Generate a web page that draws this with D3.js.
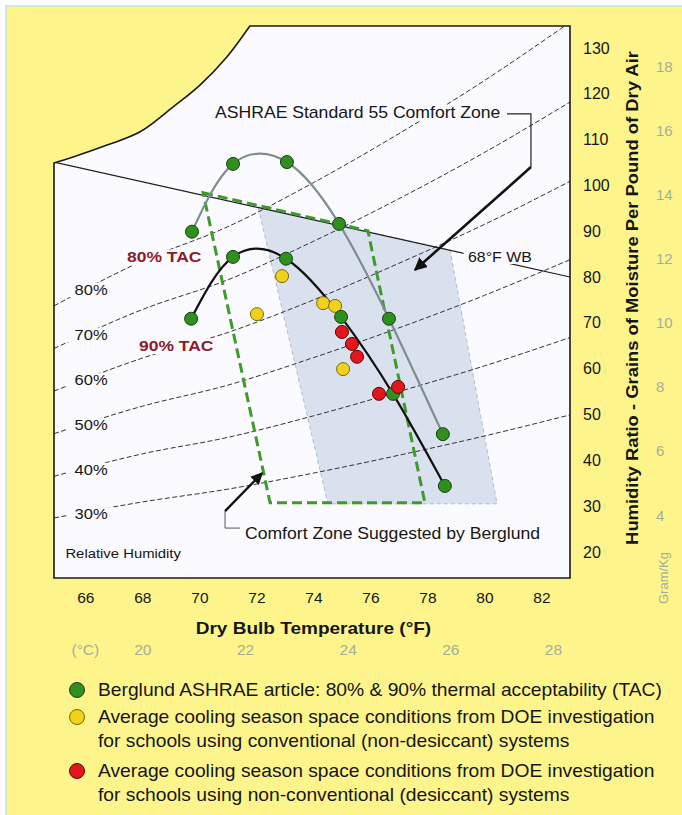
<!DOCTYPE html>
<html>
<head>
<meta charset="utf-8">
<script src="https://cdn.jsdelivr.net/npm/d3@7"></script>
<style>
  html, body { margin: 0; padding: 0; background: #fff; }
  svg { display: block; font-family: "Liberation Sans", Arial, Helvetica, sans-serif; }
</style>
</head>
<body>
<div id="chart"></div>
<script>
// --- Tick values ---
const tempTicksF = [66, 68, 70, 72, 74, 76, 78, 80, 82];
const tempTicksC = [20, 22, 24, 26, 28];
const grainTicks = [20, 30, 40, 50, 60, 70, 80, 90, 100, 110, 120, 130];
const gramTicks  = [4, 6, 8, 10, 12, 14, 16, 18];

// --- Relative humidity lines (grains/lb read at each dry bulb temp, °F) ---
const rhTemps  = [64.9, 68, 71, 74, 77, 80, 83];
const rhLevels = ["30%", "40%", "50%", "60%", "70%", "80%"];
const rh30 = [27.4, 30.9, 33.7, 37.2, 41.1, 45.3, 49.9];
const rh40 = [36.5, 41.4, 45.0, 49.7, 55.0, 60.6, 66.8];
const rh50 = [45.8, 51.8, 56.4, 62.4, 68.9, 76.0, 83.8];
const rh60 = [55.1, 62.3, 67.9, 75.0, 83.0, 91.5, 100.9];
const rh70 = [64.4, 72.9, 79.4, 87.8, 97.1, 107.2, 118.2];
const rh80 = [73.7, 83.5, 91.0, 100.6, 111.3, 122.9, 135.6];
const rhSeries = [rh30, rh40, rh50, rh60, rh70, rh80];

// --- Upper-left chart edge [°F, grains] ---
const satEdge = [[64.9, 104.9], [65.57, 106.2], [66.76, 108.8], [67.92, 111.7],
                 [69.07, 117.1], [70.02, 121.9], [70.97, 128.1], [71.77, 134.8]];

// --- 68°F wet bulb line ---
const wbLine = [[64.9, 105.1], [83.0, 80.0]];

// --- Comfort zones ---
const ashraeZone   = [[72.06, 95.3], [78.79, 85.9], [80.44, 30.5], [74.51, 30.5]];
const berglundZone = [[70.13, 98.4], [75.91, 90.1], [77.91, 30.7], [72.48, 30.7]];

// --- Berglund thermal acceptability curves ---
const tac80T = [69.74, 71.18, 73.07, 74.90, 76.65, 78.54];
const tac80W = [89.9, 104.7, 105.1, 91.6, 70.9, 45.7];
const tac90T = [69.71, 71.18, 73.04, 74.97, 76.79, 78.61];
const tac90W = [70.9, 84.4, 84.0, 71.3, 54.5, 34.4];

// --- DOE school averages ---
const convT = [72.90, 72.02, 74.34, 74.76, 75.04];
const convW = [80.2, 71.9, 74.3, 73.7, 59.9];
const desT  = [75.00, 75.35, 75.53, 76.30, 76.97];
const desW  = [68.0, 65.4, 62.6, 54.5, 56.0];

// --- Legend ---
const legendKeys  = ["green", "yellow", "red"];
const legendLines = [
  ["Berglund ASHRAE article: 80% & 90% thermal acceptability (TAC)"],
  ["Average cooling season space conditions from DOE investigation",
   "for schools using conventional (non-desiccant) systems"],
  ["Average cooling season space conditions from DOE investigation",
   "for schools using non-conventional (desiccant) systems"]
];

// --- Colors ---
const colors = {
  panel:  "#fdf58c",
  plot:   "#fbfaff",
  ink:    "#161616",
  grey:   "#a5ad9d",
  rh:     "#333333",
  zone:   "#d9e1ee",
  zoneEdge: "#aebbd0",
  dash:   "#3f9a2c",
  tac80:  "#7f8d92",
  tac90:  "#111111",
  tacText:"#8e1b2b",
  green:  "#2f8f1f",
  yellow: "#f1d11c",
  red:    "#e3161c"
};
const markStroke = { green: "#16400c", yellow: "#7a6a08", red: "#5a0505" };

// --- SVG + scales ---
const width = 682, height = 815;
const stretch = 1.1;   // the source lettering runs a little wide
const svg = d3.select("#chart").append("svg")
  .attr("width", width).attr("height", height);

const x = d3.scaleLinear().domain([64.9, 83.0]).range([54, 570]);
const y = d3.scaleLinear().domain([14.3, 134.8]).range([578, 26]);
const xC = d3.scaleLinear().domain(x.domain().map(f => (f - 32) / 1.8)).range(x.range());
const yG = d3.scaleLinear().domain(y.domain().map(g => g / 7)).range(y.range());

const line = d3.line().x(d => x(d[0])).y(d => y(d[1]));
const smooth = d3.line().curve(d3.curveCatmullRom).x(d => x(d[0])).y(d => y(d[1]));

// background panel
svg.append("rect")
  .attr("x", 6).attr("y", 6).attr("width", width).attr("height", height)
  .attr("fill", colors.panel).attr("stroke", "#c6dfe8").attr("stroke-width", 1.5);

// plot area outline: straight box sides + smooth upper-left edge
const [t0, t1] = x.domain(), [w0, w1] = y.domain();
const outlinePath = line([[t0, w0], [t1, w0], [t1, w1]]) + "L" +
  smooth(satEdge.slice().reverse()).slice(1) + "Z";

const defs = svg.append("defs");
defs.append("clipPath").attr("id", "plotClip")
  .append("path").attr("d", outlinePath);

svg.append("path").attr("d", outlinePath).attr("fill", colors.plot);

const plot = svg.append("g").attr("clip-path", "url(#plotClip)");

// ASHRAE comfort zone (shaded)
plot.append("path")
  .attr("d", line(ashraeZone) + "Z")
  .attr("fill", colors.zone)
  .attr("stroke", colors.zoneEdge).attr("stroke-width", 1)
  .attr("stroke-dasharray", "4,3");

// RH lines
const rhLine = d3.line().curve(d3.curveMonotoneX)
  .x((d, i) => x(rhTemps[i])).y(d => y(d));
rhSeries.forEach(s => {
  plot.append("path").attr("d", rhLine(s))
    .attr("fill", "none").attr("stroke", colors.rh)
    .attr("stroke-width", 1).attr("stroke-dasharray", "5,2.5");
});

// wet bulb line
plot.append("path").attr("d", line(wbLine))
  .attr("fill", "none").attr("stroke", "#1d1d1d").attr("stroke-width", 1.2);

// Berglund comfort zone (green dashed)
svg.append("path")
  .attr("d", line(berglundZone) + "Z")
  .attr("fill", "none").attr("stroke", colors.dash)
  .attr("stroke-width", 3).attr("stroke-dasharray", "10,5");

// TAC curves
const tacLine = d3.line().curve(d3.curveNatural)
  .x(d => x(d[0])).y(d => y(d[1]));
svg.append("path").attr("d", tacLine(d3.zip(tac80T, tac80W)))
  .attr("fill", "none").attr("stroke", colors.tac80).attr("stroke-width", 2.2);
svg.append("path").attr("d", tacLine(d3.zip(tac90T, tac90W)))
  .attr("fill", "none").attr("stroke", colors.tac90).attr("stroke-width", 2.2);

// points
function drawPoints(ts, ws, key) {
  svg.append("g").selectAll("circle")
    .data(d3.zip(ts, ws)).join("circle")
    .attr("cx", d => x(d[0])).attr("cy", d => y(d[1])).attr("r", 6.5)
    .attr("fill", colors[key]).attr("stroke", markStroke[key]).attr("stroke-width", 1);
}
drawPoints(convT, convW, "yellow");
drawPoints(tac80T, tac80W, "green");
drawPoints(tac90T, tac90W, "green");
drawPoints(desT, desW, "red");

// --- labels with a plot-coloured backing box ---
function label(text, px, py, opts = {}) {
  const g = svg.append("g")
    .attr("transform", `translate(${px},${py}) scale(${opts.sx || stretch},1)`);
  const bg = g.append("rect").attr("fill", colors.plot);
  const t = g.append("text")
    .attr("dominant-baseline", "central")
    .attr("text-anchor", opts.anchor || "start")
    .attr("font-size", opts.size || 15)
    .attr("font-weight", opts.weight || "normal")
    .attr("fill", opts.fill || colors.ink)
    .text(text);
  const b = t.node().getBBox();
  const pad = opts.pad == null ? 3 : opts.pad;
  bg.attr("x", b.x - pad).attr("y", b.y + 1).attr("width", b.width + 2 * pad).attr("height", b.height - 2);
  return t;
}

// RH labels sit on their own line near the left edge
rhSeries.forEach((s, i) => {
  const at = d3.scaleLinear().domain(rhTemps).range(s);
  label(rhLevels[i], x(66.2), y(at(66.2)) + 3, { anchor: "middle", size: 15, pad: 6 });
});

label("80% TAC", x(67.46), y(84.3), { size: 15.5, weight: "bold", fill: colors.tacText, pad: 2, sx: 1.13 });
label("90% TAC", x(67.88), y(64.9), { size: 15.5, weight: "bold", fill: colors.tacText, pad: 2, sx: 1.13 });
label("ASHRAE Standard 55 Comfort Zone", x(70.55), y(115.8), { size: 16, pad: 2 });
label("68°F WB", x(79.42), y(84.4), { size: 14.5, pad: 4 });
label("Comfort Zone Suggested by Berglund", x(71.6), y(23.9), { size: 16, pad: 2 });
label("Relative Humidity", x(65.3), y(19.6), { size: 13.5, pad: 0 });

// frame on top
svg.append("path").attr("d", outlinePath)
  .attr("fill", "none").attr("stroke", "#1a1a1a").attr("stroke-width", 1.6);

// --- annotation arrows ---
defs.append("marker").attr("id", "arrow")
  .attr("viewBox", "0 0 10 10").attr("refX", 9).attr("refY", 5)
  .attr("markerWidth", 5).attr("markerHeight", 5).attr("orient", "auto")
  .append("path").attr("d", "M0,0 L10,5 L0,10 Z").attr("fill", "#111");

// ASHRAE bracket + arrow
svg.append("path").attr("d", line([[80.79, 115.6], [81.63, 115.6], [81.63, 104.0]]))
  .attr("fill", "none").attr("stroke", "#222").attr("stroke-width", 1.2);
svg.append("path").attr("d", line([[81.63, 104.0], [77.56, 81.55]]))
  .attr("fill", "none").attr("stroke", "#111").attr("stroke-width", 2.6)
  .attr("marker-end", "url(#arrow)");

// Berglund bracket + arrow
svg.append("path").attr("d", line([[71.42, 25.2], [70.9, 25.2], [70.9, 28.9]]))
  .attr("fill", "none").attr("stroke", "#555").attr("stroke-width", 1);
svg.append("path").attr("d", line([[70.9, 28.9], [72.2, 37.2]]))
  .attr("fill", "none").attr("stroke", "#111").attr("stroke-width", 2.4)
  .attr("marker-end", "url(#arrow)");

// --- axes ---
function styleAxis(g, size, fill) {
  g.select(".domain").remove();
  g.attr("font-family", null).attr("font-size", size);
  g.selectAll("text").attr("fill", fill);
}

svg.append("g").attr("transform", `translate(${x.range()[1]},0)`)
  .call(d3.axisRight(y).tickValues(grainTicks).tickSize(0).tickPadding(13))
  .call(g => styleAxis(g, 16, colors.ink));

svg.append("g").attr("transform", `translate(${x.range()[1]},0)`)
  .call(d3.axisRight(yG).tickValues(gramTicks).tickSize(0).tickPadding(86))
  .call(g => styleAxis(g, 15, colors.grey));

svg.append("g").attr("transform", `translate(0,${y.range()[0]})`)
  .call(d3.axisBottom(x).tickValues(tempTicksF).tickSize(0).tickPadding(14))
  .call(g => styleAxis(g, 15.5, colors.ink));

svg.append("g").attr("transform", `translate(0,${y.range()[0]})`)
  .call(d3.axisBottom(xC).tickValues(tempTicksC).tickSize(0).tickPadding(66))
  .call(g => styleAxis(g, 15.5, colors.grey));

svg.append("text")
  .attr("x", x(66)).attr("y", 655).attr("text-anchor", "middle")
  .attr("font-size", 15.5).attr("fill", colors.grey).text("(°C)");

// axis titles
svg.append("text")
  .attr("transform", `translate(${x(74)},634) scale(1.12,1)`)
  .attr("text-anchor", "middle")
  .attr("font-size", 17).attr("font-weight", "bold").attr("fill", colors.ink)
  .text("Dry Bulb Temperature (°F)");

svg.append("text")
  .attr("transform", "translate(638,298) rotate(-90) scale(1.07,1)")
  .attr("text-anchor", "middle")
  .attr("font-size", 17.2).attr("font-weight", "bold").attr("fill", colors.ink)
  .text("Humidity Ratio - Grains of Moisture Per Pound of Dry Air");

svg.append("text")
  .attr("transform", "translate(668,578) rotate(-90)")
  .attr("text-anchor", "middle")
  .attr("font-size", 13).attr("fill", colors.grey)
  .text("Gram/Kg");

// --- legend ---
const legend = svg.append("g").attr("transform", "translate(77,690)");
const rowStart = [0, 27, 81];
legendKeys.forEach((k, i) => {
  legend.append("circle").attr("cx", 0).attr("cy", rowStart[i]).attr("r", 7.5)
    .attr("fill", colors[k]).attr("stroke", markStroke[k]).attr("stroke-width", 1);
  legendLines[i].forEach((s, j) => {
    legend.append("text")
      .attr("transform", `translate(21,${rowStart[i] + j * 24}) scale(${stretch},1)`)
      .attr("dominant-baseline", "central")
      .attr("font-size", 17.5).attr("fill", colors.ink)
      .text(s);
  });
});
</script>
</body>
</html>
